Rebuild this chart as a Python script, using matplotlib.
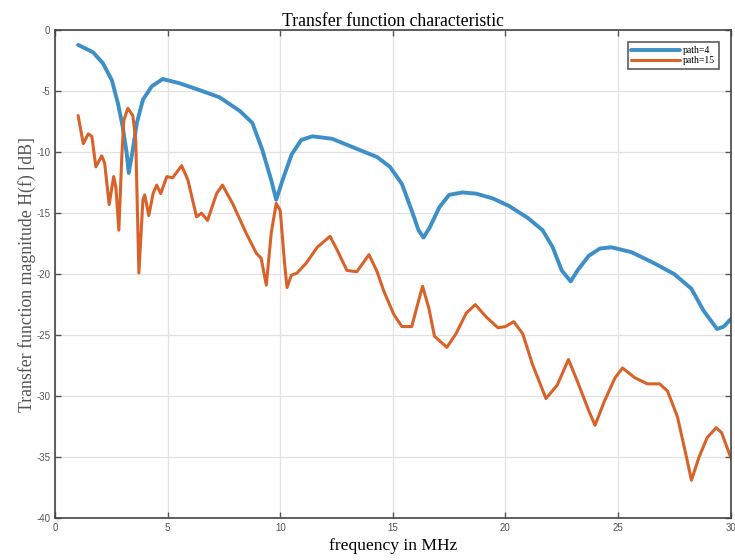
import numpy as np
import matplotlib
matplotlib.use("Agg")
import matplotlib.pyplot as plt

# path=4 curve
f4 = [1.02, 1.68, 2.12, 2.52, 2.79, 3.0, 3.18, 3.27, 3.45, 3.63, 3.9, 4.29, 4.78, 5.53, 6.4,
      7.3, 8.19, 8.76, 9.2, 9.6, 9.82, 10.1, 10.5, 10.93, 11.42, 12.3, 13.5, 14.3, 14.87, 15.4,
      15.84, 16.14, 16.36, 16.63, 17.07, 17.5, 18.08, 18.7, 19.45, 20.15, 21.0, 21.65, 22.1, 22.5, 22.9,
      23.2, 23.7, 24.2, 24.7, 25.6, 26.6, 27.5, 28.26, 28.8, 29.4, 29.7, 30.0]
h4 = [-1.2, -1.8, -2.7, -4.1, -6.0, -7.9, -10.1, -11.7, -9.8, -7.6, -5.7, -4.6, -4.0, -4.35, -4.9,
      -5.5, -6.6, -7.6, -9.8, -12.3, -13.9, -12.3, -10.2, -9.0, -8.7, -8.9, -9.8, -10.4, -11.2, -12.6,
      -14.8, -16.4, -17.0, -16.2, -14.5, -13.5, -13.3, -13.4, -13.8, -14.4, -15.4, -16.4, -17.8, -19.7, -20.6,
      -19.7, -18.5, -17.9, -17.8, -18.2, -19.1, -20.0, -21.2, -23.0, -24.5, -24.3, -23.7]

# path=15 curve
f15 = [1.02, 1.25, 1.47, 1.63, 1.81, 2.07, 2.2, 2.4, 2.6, 2.7, 2.83, 2.96, 3.05, 3.23, 3.45,
       3.58, 3.72, 3.9, 3.98, 4.16, 4.35, 4.51, 4.69, 4.96, 5.22, 5.62, 5.9, 6.28, 6.5, 6.77,
       7.17, 7.43, 7.88, 8.5, 8.94, 9.15, 9.38, 9.6, 9.82, 10.0, 10.18, 10.3, 10.49, 10.75, 11.15,
       11.64, 12.21, 12.52, 12.96, 13.4, 13.94, 14.3, 14.6, 15.04, 15.4, 15.84, 16.14, 16.32, 16.6, 16.85,
       17.4, 17.8, 18.26, 18.66, 19.14, 19.67, 20.0, 20.37, 20.77, 21.2, 21.8, 22.3, 22.8, 23.24, 23.7,
       23.98, 24.4, 24.87, 25.2, 25.75, 26.3, 26.85, 27.2, 27.64, 28.04, 28.26, 28.6, 28.96, 29.36, 29.6,
       30.0]
h15 = [-7.0, -9.3, -8.5, -8.7, -11.2, -10.3, -10.9, -14.3, -12.0, -12.9, -16.4, -10.4, -7.4, -6.4, -7.0,
       -9.0, -19.9, -13.9, -13.5, -15.2, -13.4, -12.7, -13.4, -12.0, -12.1, -11.1, -12.3, -15.3, -15.0, -15.6,
       -13.4, -12.7, -14.2, -16.7, -18.3, -18.7, -20.9, -16.6, -14.2, -14.8, -18.9, -21.1, -20.1, -19.9, -19.1,
       -17.8, -16.9, -18.0, -19.7, -19.8, -18.4, -19.8, -21.4, -23.3, -24.3, -24.3, -22.2, -21.0, -22.8, -25.1,
       -26.0, -24.9, -23.2, -22.5, -23.5, -24.4, -24.3, -23.9, -24.9, -27.4, -30.2, -29.1, -27.0, -29.0, -31.2,
       -32.4, -30.4, -28.5, -27.7, -28.5, -29.0, -29.0, -29.6, -31.7, -35.0, -36.9, -35.0, -33.4, -32.6, -33.0,
       -35.0]

xticks = [0, 5, 10, 15, 20, 25, 30]
yticks = [0, -5, -10, -15, -20, -25, -30, -35, -40]

plt.rcParams['font.family'] = ['Liberation Serif', 'DejaVu Serif']
plt.rcParams['axes.unicode_minus'] = False

fig = plt.figure(figsize=(7.35, 5.6), dpi=100)
ax = fig.add_axes([0.075, 0.075, 0.919, 0.871])

ax.plot(f4, h4, color='#3d8fc6', lw=2.8, label='path=4',
        solid_joinstyle='round', solid_capstyle='round')
ax.plot(f15, h15, color='#d9622b', lw=2.2, label='path=15',
        solid_joinstyle='round', solid_capstyle='round')

ax.set_xlim(0, 30)
ax.set_ylim(-40, 0)
ax.set_xticks(xticks)
ax.set_yticks(yticks)
ax.tick_params(direction='in', top=True, right=True, labelsize=7, colors='#555555',
               length=4, width=1)
for lbl in ax.get_xticklabels() + ax.get_yticklabels():
    lbl.set_family(['Liberation Sans', 'DejaVu Sans'])
ax.grid(True, color='#e2e2e2', lw=0.9)
for s in ax.spines.values():
    s.set_color('#444444')
    s.set_linewidth(1.2)

ax.set_title('Transfer function characteristic', fontsize=12.8, pad=3)
ax.set_xlabel('frequency in MHz', fontsize=12.6, labelpad=4)
ax.set_ylabel('Transfer function magnitude H(f) [dB]', fontsize=12.8, color='#555555', labelpad=0)

leg = ax.legend(loc='upper right', fontsize=7, frameon=True, fancybox=False,
                handlelength=5, borderpad=0.4, labelspacing=0.1, handletextpad=0.3,
                bbox_to_anchor=(0.99, 0.985))
leg.get_frame().set_edgecolor('#333333')
leg.get_frame().set_linewidth(1.2)

fig.savefig('out.png', dpi=100)
